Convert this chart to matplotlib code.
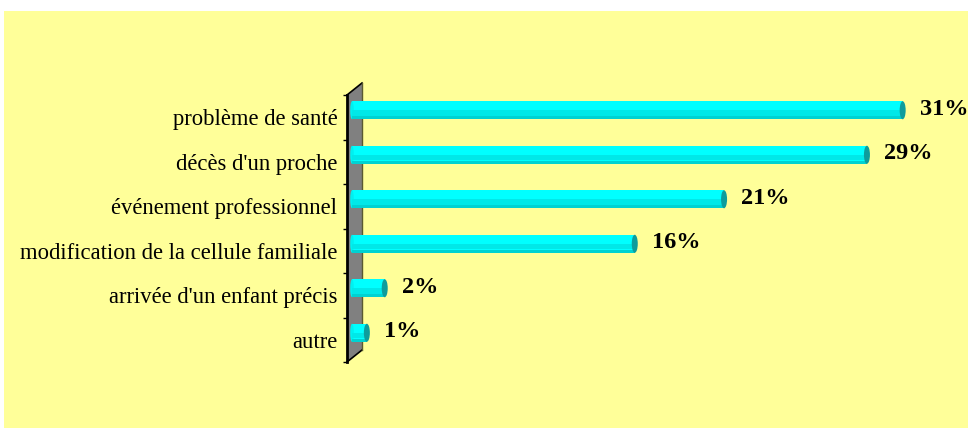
import matplotlib
matplotlib.use("Agg")
import matplotlib.pyplot as plt
from matplotlib.patches import Rectangle, Ellipse, Polygon

categories = ["problème de santé", "décès d'un proche", "événement professionnel",
              "modification de la cellule familiale", "arrivée d'un enfant précis", "autre"]
values = [31, 29, 21, 16, 2, 1]
labels = ["31%", "29%", "21%", "16%", "2%", "1%"]

W, H = 968, 428
fig = plt.figure(figsize=(W / 100, H / 100), dpi=100, facecolor="white")
fig.patches.append(Rectangle((4 / W, 0), 1 - 4 / W, (H - 11) / H, transform=fig.transFigure,
                             facecolor="#FFFF99", edgecolor="none", zorder=-10))

ax_l, ax_r, ax_t, ax_b = 347, 968, 95, 362
ax = fig.add_axes([ax_l / W, (H - ax_b) / H, (ax_r - ax_l) / W, (ax_b - ax_t) / H])
ax.set_facecolor("none")
ax.set_zorder(5)

pxx = 17.86          # pixels per percent
pxy = (ax_b - ax_t) / len(categories)
xmin = -(352 - ax_l) / pxx
xmax = xmin + (ax_r - ax_l) / pxx
ax.set_xlim(xmin, xmax)
ax.set_ylim(len(categories) - 0.5, -0.5)

# back wall (3D)
dx = 15 / pxx
dy = 12 / pxy
n = len(categories)
wall = Polygon([(xmin, n - 0.5), (xmin, -0.5), (xmin + dx, -0.5 - dy), (xmin + dx, n - 0.5 - dy)],
               closed=True, facecolor="#808080", edgecolor="none", clip_on=False, zorder=1)
ax.add_patch(wall)
ax.plot([xmin, xmin + dx], [-0.5, -0.5 - dy], color="black", lw=1.2, clip_on=False, zorder=2)
ax.plot([xmin, xmin + dx], [n - 0.5, n - 0.5 - dy], color="black", lw=1.2, clip_on=False, zorder=2)
ax.plot([xmin + dx, xmin + dx], [-0.5 - dy, n - 0.5 - dy], color="#5a5a30", lw=1.0, clip_on=False, zorder=2)

# bars
bh = 18 / pxy
shift = 7 / pxy
capw = 6 / pxx
ypos = list(range(n))
centers = [y - shift for y in ypos]
body = [v - capw / 2 for v in values]
ax.barh(centers, body, height=bh, color="#00FFFF", edgecolor="none", zorder=3)
ax.barh([c + bh * 0.15 for c in centers], body, height=bh * 0.3, color="#00E8E8", edgecolor="none", zorder=4)
ax.barh([c + bh * 0.42 for c in centers], body, height=bh * 0.16, color="#00D2D2", edgecolor="none", zorder=4)
for c, b in zip(centers, body):
    ax.add_patch(Ellipse((b, c), capw, bh, facecolor="#0E9C9C", edgecolor="none", zorder=5))
    ax.add_patch(Ellipse((0, c), capw * 0.6, bh, facecolor="#00F0F0", edgecolor="none", zorder=3))

# value labels
off = 14 / pxx
for c, v, t in zip(centers, values, labels):
    ax.text(v + off, c - 1 / pxy, t, ha="left", va="center", fontsize=17.5, fontweight="bold",
            family="Liberation Serif", color="black", zorder=6, clip_on=False)

# axes
for s in ["top", "right", "bottom"]:
    ax.spines[s].set_visible(False)
ax.spines["left"].set_color("black")
ax.spines["left"].set_linewidth(2)
ax.spines["left"].set_zorder(6)
ax.set_xticks([])
ax.set_yticks([i - 0.5 for i in range(n + 1)])
ax.set_yticklabels([])
ax.tick_params(axis="y", which="major", length=3, width=1, color="black", direction="out")
ax.set_yticks(ypos, minor=True)
ax.set_yticklabels(categories, minor=True, fontsize=16.3, family="Liberation Serif")
ax.tick_params(axis="y", which="minor", length=0, pad=7)

fig.savefig("out.png", dpi=100, facecolor="white")
